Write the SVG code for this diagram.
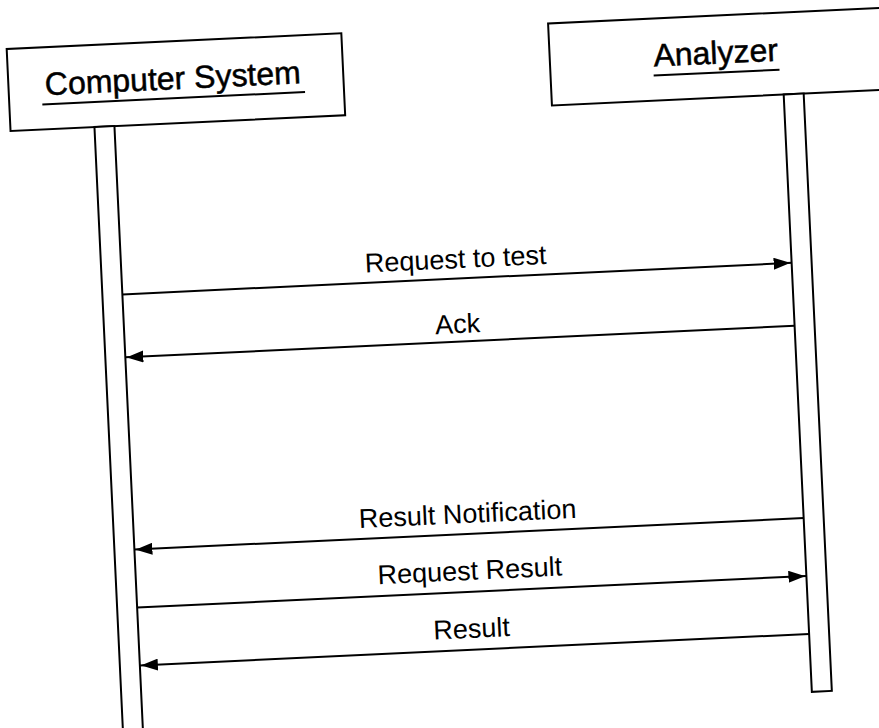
<svg xmlns="http://www.w3.org/2000/svg" width="879" height="728" viewBox="0 0 879 728">
  <style>
    .box { fill: #ffffff; stroke: #000000; stroke-width: 2; }
    .life { fill: #ffffff; stroke: #000000; stroke-width: 2; }
    .title { font-family: "Liberation Sans", Arial, sans-serif; font-size: 32px; fill: #000000; stroke: #000000; stroke-width: 0.5; }
    .uline { stroke: #000000; stroke-width: 2; }
    .msg { stroke: #000000; stroke-width: 2; fill: none; }
    .lbl { font-family: "Liberation Sans", Arial, sans-serif; font-size: 27px; fill: #000000; text-anchor: middle; }
  </style>
  <defs>
    <marker id="arrow" markerUnits="userSpaceOnUse" markerWidth="20" markerHeight="12" refX="18" refY="6" orient="auto">
      <path d="M0,0 L14,5 L18,6 L14,7 L0,12 z" fill="#000000"/>
    </marker>
  </defs>
  <rect x="0" y="0" width="879" height="728" fill="#ffffff"/>
  <g transform="rotate(-2.7 440 364)">
    <g id="computer-system">
      <rect class="box" x="22" y="29" width="335" height="82"/>
      <text class="title" x="186.5" y="77" text-anchor="middle">Computer System</text>
      <line class="uline" x1="55" y1="86" x2="318" y2="86"/>
      <rect class="life" x="106" y="111" width="20" height="605"/>
    </g>
    <g id="analyzer">
      <rect class="box" x="564" y="29" width="340" height="82"/>
      <text class="title" x="730" y="77" text-anchor="middle">Analyzer</text>
      <line class="uline" x1="667" y1="86" x2="793" y2="86"/>
      <rect class="life" x="796" y="111" width="20" height="598"/>
    </g>
    <g id="connectors">
      <line class="msg" x1="126" y1="279.5" x2="796" y2="279.5" marker-end="url(#arrow)"/>
      <text class="lbl" x="460.5" y="269">Request to test</text>
      <line class="msg" x1="796" y1="342.5" x2="126" y2="342.5" marker-end="url(#arrow)"/>
      <text class="lbl" x="459.5" y="334">Ack</text>
      <line class="msg" x1="796" y1="535" x2="126" y2="535" marker-end="url(#arrow)"/>
      <text class="lbl" x="460.5" y="524">Result Notification</text>
      <line class="msg" x1="126" y1="593" x2="796" y2="593" marker-end="url(#arrow)"/>
      <text class="lbl" x="460" y="581">Request Result</text>
      <line class="msg" x1="796" y1="651" x2="126" y2="651" marker-end="url(#arrow)"/>
      <text class="lbl" x="459" y="639">Result</text>
    </g>
  </g>
</svg>
